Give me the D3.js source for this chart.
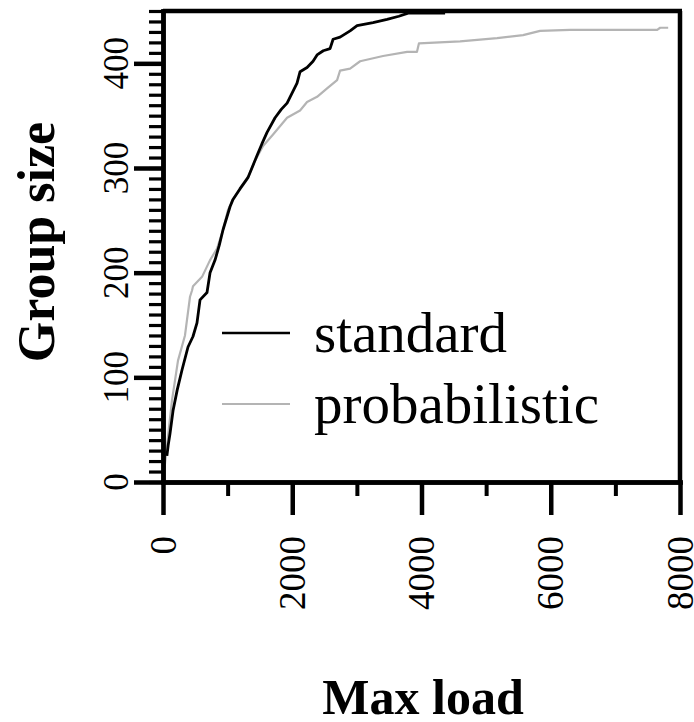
<!DOCTYPE html>
<html>
<head>
<meta charset="utf-8">
<script src="https://cdn.jsdelivr.net/npm/d3@7/dist/d3.min.js"></script>
<style>
  body { margin: 0; background: #fff; }
  text { font-family: "Liberation Serif", "Times New Roman", serif; fill: #000; }
</style>
</head>
<body>
<script>
// standard: max load vs group size
const standardLoad = [60, 80, 108, 155, 220, 294, 387, 464, 526, 573, 681, 728, 805, 870, 929, 1037, 1083, 1190, 1316, 1455, 1530, 1610, 1734, 1830, 1920, 2074, 2121, 2229, 2322, 2384, 2480, 2585, 2632, 2740, 2895, 3003, 3250, 3467, 3650, 3793, 4365];
const standardSize = [25, 35, 46, 68, 88, 107, 129, 139, 152, 174, 181, 200, 212, 226, 241, 263, 270, 280, 291, 312, 323, 334, 348, 356, 362, 381, 392, 396, 402, 408, 412, 414, 423, 425, 431, 436, 439, 442, 445, 448, 448];

// probabilistic
const probLoad = [0, 30, 77, 139, 232, 340, 418, 449, 464, 604, 728, 836, 929, 1006, 1083, 1300, 1424, 1548, 1703, 1920, 2121, 2229, 2384, 2539, 2694, 2740, 2895, 3050, 3405, 3777, 3930, 3960, 4597, 5170, 5572, 5835, 6300, 7647, 7693, 7817];
const probSize = [5, 17, 43, 78, 116, 140, 177, 183, 187, 196, 212, 223, 241, 260, 270, 289, 307, 321, 332, 348, 355, 363, 368, 376, 384, 393, 395, 402, 407, 411, 411, 419, 421, 424, 427, 431, 432, 432, 434, 434];

const seriesNames = ['standard', 'probabilistic'];
const seriesColors = ['#000', '#b4b4b4'];

const xTicks = [0, 2000, 4000, 6000, 8000];
const xMinor = [1000, 3000, 5000, 7000];
const yTicks = [0, 100, 200, 300, 400];
const yMinor = d3.range(0, 451, 10);

const width = 694, height = 722;

const x = d3.scaleLinear().domain([0, 8000]).range([163, 680]);
const y = d3.scaleLinear().domain([0, 450]).range([482, 11]);

const svg = d3.select('body').append('svg')
  .attr('width', width)
  .attr('height', height);

// lines
const line = d3.line()
  .x(d => x(d[0]))
  .y(d => y(d[1]));

const series = [
  standardLoad.map((v, i) => [v, standardSize[i]]),
  probLoad.map((v, i) => [v, probSize[i]])
];

svg.selectAll('.series')
  .data([1, 0])
  .enter().append('path')
  .attr('class', 'series')
  .attr('fill', 'none')
  .attr('stroke', i => seriesColors[i])
  .attr('stroke-width', i => i === 0 ? 2.8 : 2.2)
  .attr('stroke-linejoin', 'round')
  .attr('d', i => line(series[i]));

// axes
const yMinorAxis = d3.axisLeft(y).tickValues(yMinor).tickSize(14).tickSizeOuter(0).tickFormat('');
const yMajorAxis = d3.axisLeft(y).tickValues(yTicks).tickSize(29).tickSizeOuter(0).tickFormat('');
const xMinorAxis = d3.axisBottom(x).tickValues(xMinor).tickSize(14).tickSizeOuter(0).tickFormat('');
const xMajorAxis = d3.axisBottom(x).tickValues(xTicks).tickSize(33).tickSizeOuter(0).tickFormat('');

const gy1 = svg.append('g').attr('transform', 'translate(163,0)').call(yMinorAxis);
const gy2 = svg.append('g').attr('transform', 'translate(163,0)').call(yMajorAxis);
const gx1 = svg.append('g').attr('transform', 'translate(0,482)').call(xMinorAxis);
const gx2 = svg.append('g').attr('transform', 'translate(0,482)').call(xMajorAxis);

[gy1, gy2, gx1, gx2].forEach(g => {
  g.selectAll('path.domain').attr('stroke', '#000').attr('stroke-width', 4.5).attr('stroke-linecap', 'square');
  g.selectAll('.tick line').attr('stroke', '#000');
});
gy1.selectAll('.tick line').attr('stroke-width', 3.2);
gy2.selectAll('.tick line').attr('stroke-width', 4.5);
gx1.selectAll('.tick line').attr('stroke-width', 4);
gx2.selectAll('.tick line').attr('stroke-width', 4.5);

// frame top and right
svg.append('line')
  .attr('x1', x(0)).attr('x2', x(8000) + 2)
  .attr('y1', y(450)).attr('y2', y(450))
  .attr('stroke', '#000').attr('stroke-width', 4.5);
svg.append('line')
  .attr('x1', x(8000)).attr('x2', x(8000))
  .attr('y1', y(450)).attr('y2', y(0))
  .attr('stroke', '#000').attr('stroke-width', 4.5);

// tick labels
svg.selectAll('.xlab')
  .data(xTicks)
  .enter().append('text')
  .attr('class', 'xlab')
  .attr('transform', d => 'translate(' + x(d) + ',536) rotate(-90)')
  .attr('text-anchor', 'end')
  .attr('dy', '0.34em')
  .style('font-size', '37px')
  .text(d => d);

svg.selectAll('.ylab')
  .data(yTicks)
  .enter().append('text')
  .attr('class', 'ylab')
  .attr('transform', d => 'translate(128,' + y(d) + ') rotate(-90)')
  .attr('text-anchor', 'middle')
  .style('font-size', '35px')
  .text(d => d);

// titles
svg.append('text')
  .attr('transform', 'translate(54,242) rotate(-90)')
  .attr('text-anchor', 'middle')
  .style('font-size', '52px')
  .style('font-weight', 'bold')
  .text('Group size');

svg.append('text')
  .attr('x', 423)
  .attr('y', 714)
  .attr('text-anchor', 'middle')
  .style('font-size', '50px')
  .style('font-weight', 'bold')
  .text('Max load');

// legend
const legend = svg.selectAll('.legend')
  .data(seriesNames)
  .enter().append('g')
  .attr('class', 'legend')
  .attr('transform', (d, i) => 'translate(0,' + (i * 71) + ')');

legend.append('line')
  .attr('x1', 222).attr('x2', 290)
  .attr('y1', 333).attr('y2', 333)
  .attr('stroke', (d, i) => seriesColors[i])
  .attr('stroke-width', (d, i) => i === 0 ? 2.6 : 2.2);

legend.append('text')
  .attr('x', 314)
  .attr('y', 352)
  .style('font-size', '57px')
  .text(d => d);
</script>
</body>
</html>
